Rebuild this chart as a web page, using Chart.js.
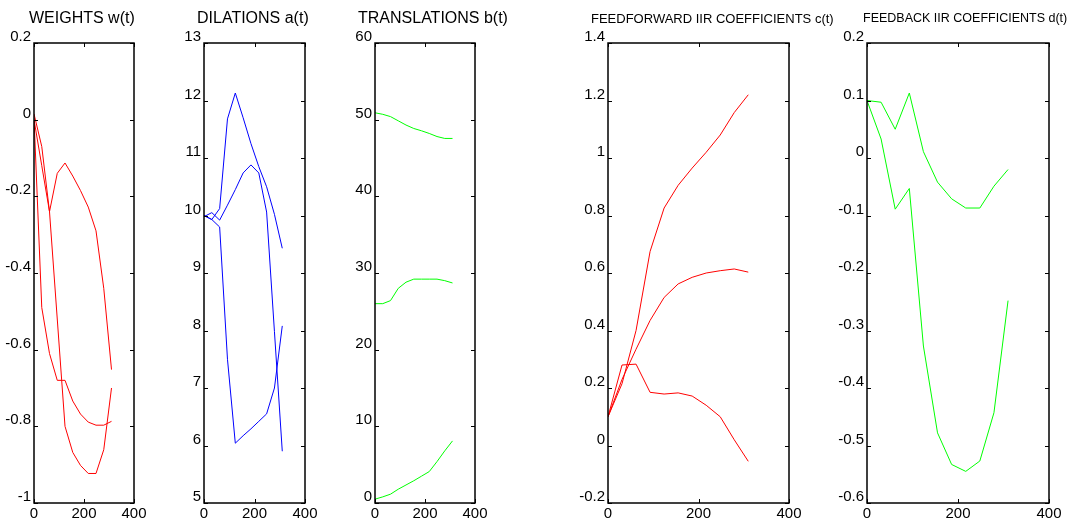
<!DOCTYPE html>
<html>
<head>
<meta charset="utf-8">
<script src="https://cdn.jsdelivr.net/npm/chart.js@4/dist/chart.umd.min.js"></script>
<style>
  body { margin: 0; background: #fff; width: 1069px; height: 527px; position: relative; overflow: hidden; }
  .panel { position: absolute; top: 0; height: 527px; }
  .title { position: absolute; white-space: nowrap; font-family: "Liberation Sans", Arial, sans-serif; color: #000; }
</style>
</head>
<body>
<div class="panel" id="p1"><canvas id="c1"></canvas></div>
<div class="panel" id="p2"><canvas id="c2"></canvas></div>
<div class="panel" id="p3"><canvas id="c3"></canvas></div>
<div class="panel" id="p4"><canvas id="c4"></canvas></div>
<div class="panel" id="p5"><canvas id="c5"></canvas></div>
<script>
// time steps shared by every panel
const tSteps = [0, 31, 62, 93, 124, 155, 186, 217, 248, 279, 310];

// WEIGHTS w(t)
const weight1 = [0.015, -0.07, -0.24, -0.14, -0.113, -0.147, -0.185, -0.228, -0.29, -0.44, -0.652];
const weight2 = [0.005, -0.49, -0.61, -0.68, -0.68, -0.734, -0.768, -0.789, -0.797, -0.797, -0.787];
const weight3 = [0.0, -0.12, -0.24, -0.52, -0.80, -0.868, -0.902, -0.923, -0.923, -0.861, -0.70];

// DILATIONS a(t)
const dilation1 = [10.0, 9.93, 10.12, 11.68, 12.13, 11.7, 11.25, 10.85, 10.5, 10.02, 9.43];
const dilation2 = [9.98, 10.05, 9.92, 10.18, 10.45, 10.74, 10.88, 10.74, 10.06, 7.98, 5.9];
const dilation3 = [10.0, 9.93, 9.8, 7.5, 6.04, 6.17, 6.29, 6.42, 6.55, 7.0, 8.08];

// TRANSLATIONS b(t)
const translation1 = [50.9, 50.7, 50.4, 49.85, 49.3, 48.85, 48.55, 48.2, 47.8, 47.55, 47.55];
const translation2 = [26.0, 26.0, 26.4, 28.0, 28.8, 29.2, 29.2, 29.2, 29.2, 29.0, 28.7];
const translation3 = [0.5, 0.8, 1.15, 1.8, 2.35, 2.9, 3.5, 4.1, 5.4, 6.8, 8.1];

// FEEDFORWARD IIR COEFFICIENTS c(t)
const feedforward1 = [0.10, 0.215, 0.40, 0.675, 0.826, 0.905, 0.965, 1.02, 1.08, 1.158, 1.22];
const feedforward2 = [0.10, 0.23, 0.335, 0.435, 0.515, 0.562, 0.585, 0.60, 0.608, 0.614, 0.603];
const feedforward3 = [0.10, 0.28, 0.283, 0.185, 0.179, 0.183, 0.172, 0.14, 0.10, 0.02, -0.055];

// FEEDBACK IIR COEFFICIENTS d(t)
const feedback1 = [0.10, 0.097, 0.05, 0.113, 0.011, -0.042, -0.071, -0.087, -0.087, -0.049, -0.02];
const feedback2 = [0.10, 0.033, -0.089, -0.053, -0.327, -0.478, -0.533, -0.545, -0.527, -0.443, -0.248];

const FONT = '"Liberation Sans", Arial, sans-serif';
const PLOT_TOP = 43;
const PLOT_BOTTOM = 503;
const AXIS_W = 45;   // room for y tick labels
const RIGHT_PAD = 15;

// box round the plot plus inward ticks on all four sides (matlab look)
const frameTicks = {
    id: 'frameTicks',
    afterDraw(chart) {
        const { ctx, chartArea: a, scales: { x, y } } = chart;
        ctx.save();
        ctx.strokeStyle = '#000';
        ctx.lineWidth = 1;
        ctx.beginPath();
        y.ticks.forEach(t => {
            const py = Math.round(y.getPixelForValue(t.value)) + 0.5;
            ctx.moveTo(a.left, py); ctx.lineTo(a.left + 4, py);
            ctx.moveTo(a.right, py); ctx.lineTo(a.right - 4, py);
        });
        x.ticks.forEach(t => {
            const px = Math.round(x.getPixelForValue(t.value)) + 0.5;
            ctx.moveTo(px, a.bottom); ctx.lineTo(px, a.bottom - 4);
            ctx.moveTo(px, a.top); ctx.lineTo(px, a.top + 4);
        });
        ctx.stroke();
        ctx.lineWidth = 1.5;
        ctx.strokeRect(a.left, a.top, a.right - a.left, a.bottom - a.top);
        ctx.restore();
    }
};

function toPoints(values) {
    return values.map((v, i) => ({ x: tSteps[i], y: v }));
}

// plain number labels: 0, 1, -1, -0.2 (no trailing .0)
function tickLabel(value) {
    return String(Math.round(value * 100) / 100);
}

function makePanel(id, plotLeft, plotRight, series, color, yMin, yMax, yStep) {
    const wrap = document.getElementById('p' + id);
    wrap.style.left = (plotLeft - AXIS_W) + 'px';
    wrap.style.width = (plotRight - plotLeft + AXIS_W + RIGHT_PAD) + 'px';

    new Chart(document.getElementById('c' + id), {
        type: 'line',
        data: {
            datasets: series.map(s => ({
                data: toPoints(s),
                borderColor: color,
                borderWidth: 1,
                pointRadius: 0,
                tension: 0,
                fill: false
            }))
        },
        options: {
            responsive: true,
            maintainAspectRatio: false,
            animation: false,
            layout: { padding: { top: PLOT_TOP, right: RIGHT_PAD, bottom: 0, left: 0 } },
            plugins: { legend: { display: false }, tooltip: { enabled: false } },
            scales: {
                x: {
                    type: 'linear',
                    min: 0,
                    max: 400,
                    grid: { display: false, drawTicks: false },
                    border: { display: false },
                    ticks: { stepSize: 200, padding: 2, color: '#000', maxRotation: 0, font: { family: FONT, size: 15 }, callback: tickLabel },
                    afterFit: scale => { scale.height = 527 - PLOT_BOTTOM; }
                },
                y: {
                    min: yMin,
                    max: yMax,
                    grid: { display: false, drawTicks: false },
                    border: { display: false },
                    ticks: { stepSize: yStep, padding: 3, labelOffset: -6, color: '#000', font: { family: FONT, size: 15 }, callback: tickLabel },
                    afterFit: scale => { scale.width = AXIS_W; }
                }
            }
        },
        plugins: [frameTicks]
    });
}

makePanel(1, 34, 134, [weight1, weight2, weight3], '#ff0000', -1, 0.2, 0.2);
makePanel(2, 204, 305, [dilation1, dilation2, dilation3], '#0000ff', 5, 13, 1);
makePanel(3, 375, 475, [translation1, translation2, translation3], '#00ff00', 0, 60, 10);
makePanel(4, 608, 789, [feedforward1, feedforward2, feedforward3], '#ff0000', -0.2, 1.4, 0.2);
makePanel(5, 867, 1049, [feedback1, feedback2], '#00ff00', -0.6, 0.2, 0.1);

// titles sit above each axes box (left edge as in the original)
const titles = [
    { text: 'WEIGHTS w(t)', left: 29, size: 16 },
    { text: 'DILATIONS a(t)', left: 197, size: 16 },
    { text: 'TRANSLATIONS b(t)', left: 358, size: 16 },
    { text: 'FEEDFORWARD IIR COEFFICIENTS c(t)', left: 591, size: 13 },
    { text: 'FEEDBACK IIR COEFFICIENTS d(t)', left: 863, size: 12.5 }
];
titles.forEach(t => {
    const el = document.createElement('div');
    el.className = 'title';
    el.textContent = t.text;
    el.style.left = t.left + 'px';
    el.style.fontSize = t.size + 'px';
    el.style.lineHeight = t.size + 'px';
    el.style.top = (18 - t.size / 2) + 'px';
    document.body.appendChild(el);
});
</script>
</body>
</html>
